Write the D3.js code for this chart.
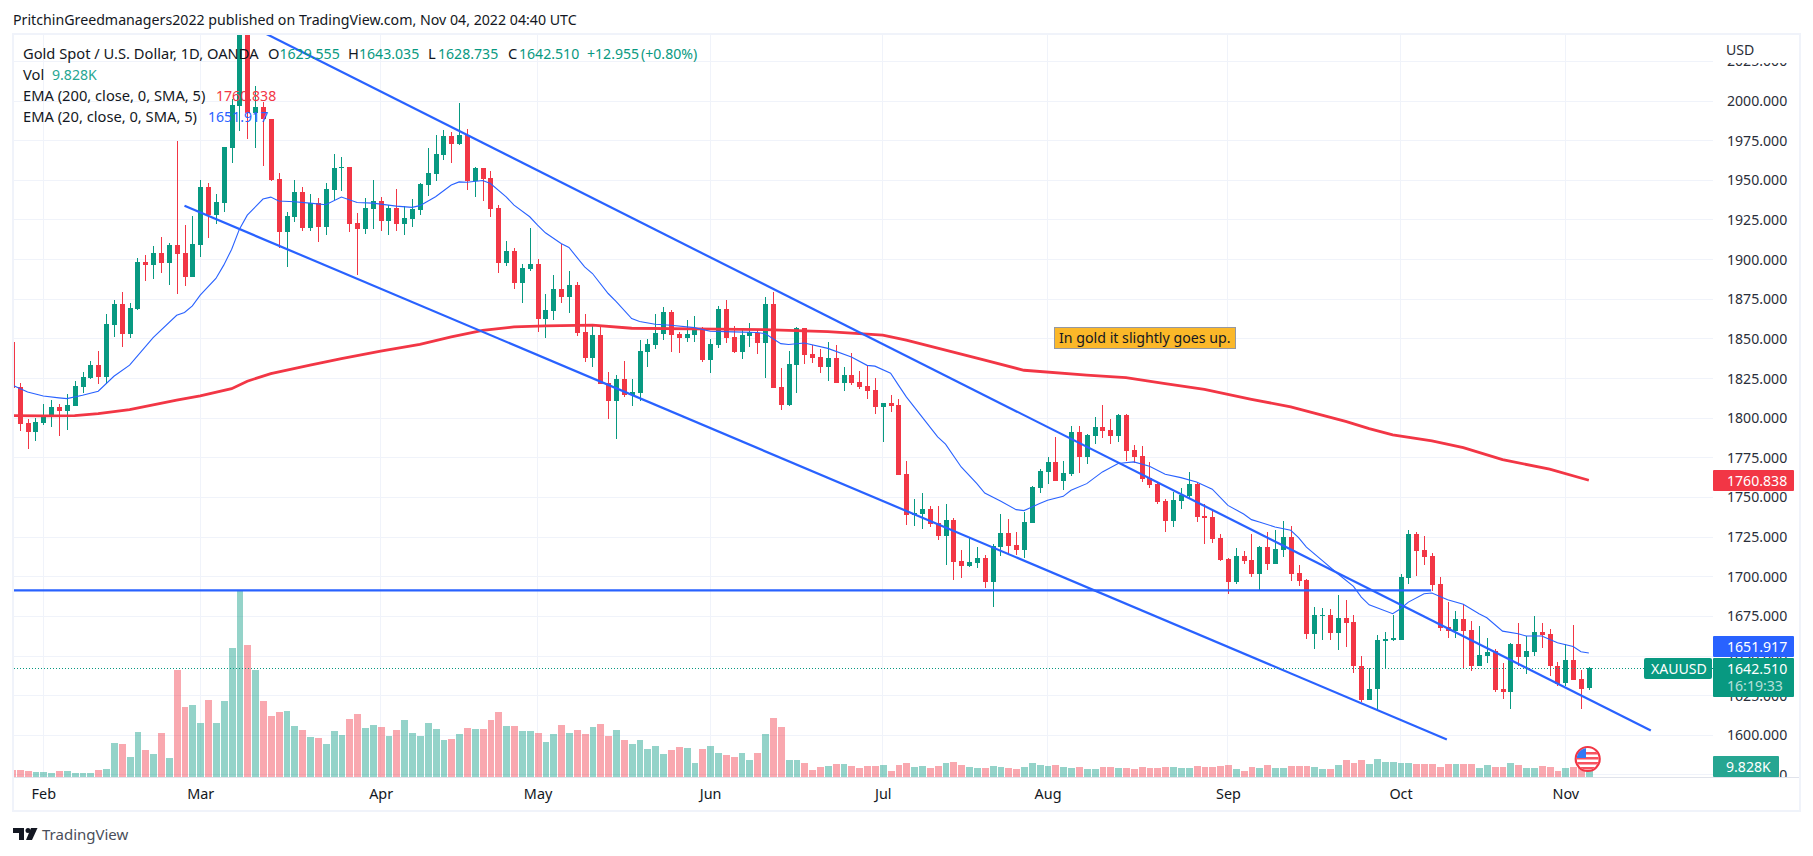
<!DOCTYPE html>
<html lang="en">
<head>
	<meta charset="UTF-8">
	<title>XAUUSD</title>
	<script src="https://d3js.org/d3.v7.min.js"></script>
	<style type="text/css" media="screen">
		html, body { margin: 0; padding: 0; background: #fff; }
		svg { display: block; }
		text { font-family: "Noto Sans", sans-serif; fill: #131722; }
		.grid line { stroke: #f0f3fa; shape-rendering: crispEdges; }
		.axis path { display: none; }
		.axis line { display: none; }
		.axis text { font-family: "Noto Sans", sans-serif; font-size: 14.1px; fill: #2a2e39; }
	</style>
</head>
<body>
	<script type="text/javascript">

		// daily candles
		const opens = [
			1848,1819.7,1796.8,1791.1,1796.8,1800.6,1806.9,1804.3,1807.5,1819.5,
			1825.2,1833.4,1825.8,1858.6,1871.9,1852.9,1868.7,1898.4,1896.5,1904.1,
			1897.8,1909.1,1904.1,1888.9,1909.1,1945.7,1928,1935.6,1970.3,1996.9,
			2050,1992.2,1996.2,1988.6,1950.8,1917.3,1926.8,1942.6,1919.8,1935.6,
			1920.5,1943.8,1957.7,1958.3,1923,1919.2,1931.8,1936.9,1924.3,1932.5,
			1922.4,1925.5,1931.2,1947,1953.9,1965.9,1977.9,1972.8,1978.5,1949.5,
			1957.7,1951.4,1932.4,1897.7,1905.3,1885.1,1893.9,1897.1,1862.4,1867.4,
			1881.3,1876.3,1883.8,1854.2,1837.7,1852.3,1822,1810.6,1824.5,1814.4,
			1815.7,1841.5,1845.9,1852.9,1866.8,1852.9,1850.4,1852.3,1856,1836.5,
			1846,1868.7,1851,1841.5,1851.6,1853.5,1847.2,1871.8,1819.4,1808.1,
			1833.3,1856.7,1840.3,1838.4,1832.1,1837.7,1822,1827,1822.6,1820.1,
			1817.5,1806.9,1809.4,1808.2,1764.6,1738.7,1739.4,1742.5,1733.7,1725.5,
			1735.6,1709.7,1706.5,1708.4,1711.6,1696.4,1718.5,1727.4,1719.8,1716.6,
			1733.7,1755.8,1765.9,1772.2,1760.2,1764.6,1791.1,1775.3,1788.6,1794.3,
			1792.4,1788.6,1801.9,1779.8,1776,1762.1,1758.3,1747.6,1735,1747.6,
			1750.7,1758.3,1738.1,1737.5,1724.2,1711,1696.4,1712.9,1710.3,1701.5,
			1718.5,1707.8,1716.6,1724.8,1702.1,1697.7,1663.6,1675,1675.6,1664.2,
			1673.7,1671.2,1644,1622,1628.9,1659.2,1659.8,1660.2,1699,1726.7,
			1716.6,1712.9,1695.2,1668,1665.5,1673.1,1666.1,1643.4,1649.8,1652.9,
			1628.9,1627.6,1657.3,1649.1,1652.3,1664.9,1663.6,1644,1632.7,1647.8,
			1635.2,1629.555
		];
		const highs = [
			1848,1822.2,1799.3,1799.9,1808.8,1811.3,1808.8,1815.1,1823.5,1829.2,
			1835.9,1842.2,1865.6,1874.4,1879.4,1872.5,1900.9,1902.8,1908.5,1914.2,
			1910.4,1974.8,1921.7,1927.4,1950.1,1948.2,1941.3,1971,2001,2070,
			2055,2009.5,1999.4,1988.6,1954.4,1930,1950.1,1945.7,1941.3,1938.8,
			1948.2,1966.6,1964.7,1958.3,1929.3,1938.8,1950.1,1939.4,1934.4,1944.5,
			1933.7,1938.2,1948.2,1970.3,1978.5,1981.7,1980.4,1998.7,1982.3,1958.3,
			1957.7,1955.8,1934.3,1911.6,1907.2,1897.1,1919.8,1900.2,1878.1,1890.1,
			1909.7,1892.7,1885.7,1865.5,1858.6,1858,1828.9,1827,1835.9,1824.5,
			1849.1,1849.7,1865.5,1870,1868,1854.2,1861.7,1864.3,1857.3,1849.7,
			1870.6,1874.4,1858,1855.4,1859.8,1855.4,1876.3,1879.4,1831.4,1842.2,
			1857.3,1856.7,1846,1843.4,1847.9,1846,1832.1,1840.9,1829.5,1833.3,
			1825.1,1809.4,1814.5,1812,1772.8,1748.8,1752.6,1744.4,1744.4,1745.7,
			1736.8,1716.6,1724.2,1718.5,1713.5,1720.4,1739.4,1736.2,1728,1740.6,
			1757,1767.8,1775.3,1788,1772.8,1794.9,1794.9,1789.9,1800.6,1808.2,
			1799.3,1802.5,1802.5,1782.9,1782.3,1772.2,1759.6,1748.8,1753.3,1755.8,
			1765.9,1758.9,1745.7,1742.5,1726.8,1711.6,1717.9,1716,1726.7,1719.2,
			1728,1729.3,1734.9,1731.8,1707.2,1698.3,1680.7,1680,1679.4,1688.2,
			1685.1,1675.6,1649.7,1642.2,1663,1664.9,1675.6,1701.5,1729.3,1728,
			1725.5,1714.7,1699.6,1683.8,1678.1,1682.6,1671.8,1668.7,1661.1,1654.2,
			1645.3,1658,1670.6,1662.4,1675,1670.6,1666.8,1646,1657.3,1669.3,
			1640.9,1643.035
		];
		const lows = [
			1819,1791.7,1780.6,1785.4,1795.5,1794.2,1788.6,1792.3,1807.5,1815.9,
			1824.5,1821.6,1821.6,1851.3,1845,1850.4,1868.3,1886.4,1887.7,1891.4,
			1883.7,1878.2,1883.2,1888.9,1901.5,1913.5,1922.4,1930,1960.9,1981,
			1976,1970.3,1959,1949.5,1907.2,1895.2,1923.6,1918,1918,1911,
			1915.4,1937.5,1943.2,1917.3,1890.2,1916,1919.2,1918,1915.4,1918,
			1915.4,1920.5,1928,1940,1949.5,1962.7,1960.8,1972.2,1943.8,1939.4,
			1936.8,1926.8,1891.4,1895.8,1881.3,1872.5,1892.7,1854.2,1850.4,1861.7,
			1872.5,1866.2,1851.6,1835.2,1832.1,1821.3,1799.2,1786.6,1813.1,1807.4,
			1810.6,1832.1,1843.4,1849.1,1841.5,1840.9,1847.9,1847.9,1835.2,1828.3,
			1844.1,1847.2,1840.9,1837.1,1844.7,1840.3,1825.1,1818.8,1804.9,1807.4,
			1815.7,1834,1834.6,1828.3,1823.2,1822,1816.9,1820.7,1818.2,1811.9,
			1802.4,1784.8,1803.8,1764,1732.4,1731.8,1729.9,1731.2,1723,1707.2,
			1697.7,1699,1705.9,1705.3,1692.7,1680.7,1712.9,1714.1,1713.5,1711.6,
			1733.7,1752.6,1758.3,1760.2,1754.5,1763.4,1765.3,1770.9,1783.6,1787.3,
			1783.6,1784.8,1772.8,1771.5,1759.6,1755.8,1745.7,1728,1731.2,1742.5,
			1749.5,1734.3,1720.4,1721.1,1709.7,1688.9,1695.2,1707.8,1699.6,1691.4,
			1704,1707.8,1712.2,1697.1,1693.9,1660.5,1654.2,1659.8,1659.8,1653.5,
			1655.4,1639.6,1621.3,1622,1615.6,1641.5,1659.2,1659.8,1695.2,1700.2,
			1707.2,1690.8,1665.5,1661.1,1661.1,1642.2,1640.3,1643.4,1645.9,1627.6,
			1622.6,1616.9,1644,1638.4,1649.7,1654.8,1637.7,1631.4,1630.8,1634.6,
			1616.3,1628.735
		];
		const closes = [
			1819,1796.3,1791.1,1797.4,1801.8,1806.9,1804.3,1808.1,1820.1,1825.8,
			1833.4,1825.8,1859.3,1871.9,1852.9,1869.3,1898.4,1896.5,1904.1,1897.8,
			1909.1,1903.4,1888.9,1909.7,1945.7,1928,1936.3,1971,1997.5,2050,
			1992.2,1996.2,1988.6,1950.1,1917.3,1927.4,1942.6,1919.8,1935.6,1920.5,
			1944.5,1957.7,1958.3,1922.4,1919.2,1932.5,1936.9,1924.3,1932.5,1922.4,
			1926.2,1931.8,1947.6,1954.5,1966.5,1977.9,1972.8,1978.5,1949.5,1957.7,
			1950.7,1931.8,1897.7,1905.3,1885.1,1894.6,1897.1,1862.4,1868,1881.3,
			1876.3,1883.8,1853.5,1837.7,1852.3,1821.3,1810.6,1824.5,1814.4,1816.3,
			1842.2,1846.6,1853.5,1866.8,1852.3,1850.4,1852.9,1856,1836.5,1846.6,
			1868.7,1850.4,1841.5,1852.3,1854.2,1847.2,1871.8,1818.8,1808.1,1834,
			1856.7,1839.6,1837.7,1832.1,1837.7,1822,1827,1822,1819.4,1816.9,
			1806.8,1809.4,1807.5,1764,1738.7,1740,1742.5,1733,1725.5,1735.6,
			1709.1,1706.5,1709.1,1711.6,1696.4,1719.2,1727.4,1719.2,1716.6,1734.3,
			1756.4,1766.5,1772.2,1760.2,1765.3,1791.1,1775.3,1789.2,1794.3,1791.8,
			1788.6,1801.9,1779.1,1775.3,1761.5,1757.7,1747,1735,1748.2,1751.4,
			1758.3,1737.5,1736.8,1723.6,1710.3,1696.4,1712.9,1709.7,1701.5,1718.5,
			1707.8,1717.3,1724.8,1701.5,1697.1,1663.6,1675.6,1675.6,1664.2,1673.7,
			1670.6,1643.4,1622,1629.5,1659.8,1660.5,1661.1,1699.6,1726.7,1716,
			1712.2,1694.6,1667.4,1665.5,1673.1,1665.5,1643.4,1650.4,1652.3,1628.3,
			1627.6,1657.3,1649.1,1652.9,1664.9,1663,1643.4,1632.1,1647.8,1634.6,
			1628.9,1642.51
		];
		// volume in thousands
		const volumes = [
			6.9,6.9,5.9,4.9,4.9,3.9,5.9,5.9,3.9,3.9,
			3.9,6.9,7.9,33.4,32.4,19.7,44.2,26.5,22.6,43.2,
			18.7,105.2,68.8,70.8,53.1,75.7,53.1,74.7,126.8,183.1,
			129.7,105.2,74.7,60,63.9,64.9,50.1,46.2,39.3,38.3,
			32.4,45.2,41.3,57,61.9,48.2,51.1,49.1,40.3,46.2,
			56,43.2,40.3,53.1,47.2,36.4,37.3,42.3,48.2,47.2,
			47.2,56,63.9,50.1,50.1,45.2,45.2,43.2,34.4,42.3,
			51.1,43.2,46.2,42.3,49.1,52.1,40.3,46.2,36.4,32.4,
			36.4,27.5,30.5,22.6,26.5,29.5,28.5,13.8,27.5,30.5,
			23.6,21.6,19.7,23.6,16.7,23.6,42.3,58,49.1,16.7,
			16.7,13.8,6.9,9.8,10.8,12.8,12.8,10.8,8.8,10.8,
			10.8,11.8,5.9,11.8,13.8,9.8,10.8,8.8,10.8,13.8,
			14.7,11.8,9.8,8.8,8.8,10.8,9.8,8.8,7.9,9.8,
			13.8,11.8,10.8,11.8,9.8,8.8,9.8,7.9,7.9,9.8,
			9.8,8.8,8.8,7.9,9.8,8.8,8.8,9.8,9.8,8.8,
			8.8,10.8,9.8,9.8,10.8,11.8,7.9,5.9,9.8,8.8,
			11.8,8.8,8.8,10.8,10.8,10.8,9.8,7.9,7.9,11.8,
			16.7,13.8,16.7,12.8,17.7,14.7,14.7,13.8,13.8,12.8,
			12.8,12.8,9.8,12.8,12.8,12.8,12.8,8.8,11.8,9.8,
			9.8,13.8,11.8,8.8,8.8,10.8,9.8,5.9,8.8,9.8,
			10,9.828
		];

		// moving averages, [bar number, price] as read at the visible bends
		const ema20 = [
			[0,1821],[2,1816.5],[4,1814],[6,1812.8],[7,1812.3],[9,1814.4],[11,1817],[13,1826.4],[15,1833.4],[18,1850.8],
			[21,1864.9],[22,1866.6],[23,1870.8],[24,1877.6],[26,1888.1],[27,1896.5],[28,1906.4],[29,1919.2],[30,1928],[32,1938.2],
			[33,1939.4],[34,1936.9],[36,1936.5],[38,1935.6],[40,1934.6],[42,1939.4],[44,1936],[46,1935.6],[49,1933.7],[51,1932.9],
			[52,1934],[54,1939.6],[56,1947],[57,1949],[58,1948.8],[60,1949.9],[61,1948],[63,1939.6],[64,1934.3],[66,1927],
			[67,1921.7],[68,1916.9],[70,1910.1],[71,1907.6],[73,1895.4],[74,1891.2],[76,1878.6],[77,1873.7],[79,1862.8],[80,1860.9],
			[82,1859.2],[84,1858.6],[87,1857.1],[89,1854.8],[92,1854.4],[95,1854],[96,1853.3],[98,1847],[99,1846.4],[101,1847.4],
			[104,1844],[107,1838.6],[109,1833.3],[110,1832.8],[112,1828.3],[113,1820.8],[114,1813.4],[116,1800.8],[118,1788.2],[119,1783.6],
			[121,1769.2],[123,1758.7],[124,1752.8],[126,1747.8],[128,1742.3],[129,1741.7],[131,1746.1],[132,1748.2],[134,1750.7],[135,1754.5],
			[137,1758.7],[139,1766.1],[141,1771.4],[143,1772.4],[145,1769.7],[147,1764.6],[149,1762.5],[151,1759.8],[153,1755.2],[155,1745],
			[157,1739.5],[158,1736],[159,1734.5],[161,1731.4],[163,1729.3],[164,1724.6],[165,1718.7],[167,1710.3],[169,1701.9],[171,1693.9],
			[172,1687.2],[173,1682.3],[176,1676.7],[177,1679.8],[178,1684],[180,1689.3],[181,1689.7],[183,1685.5],[185,1682.6],[187,1676.7],
			[188,1674.1],[190,1665.7],[192,1664],[193,1662.6],[195,1662.6],[197,1658.4],[199,1656],[200,1652.7],[201,1651.917]
		];
		const ema200 = [
			[0,1801.6],[4,1801.4],[8,1801.6],[11,1802.9],[15,1805.4],[21,1811.3],[24,1814],[28,1818.6],[30,1823.3],[33,1828.1],
			[38,1833.4],[42,1837.6],[47,1842.2],[52,1846.5],[56,1851.2],[60,1855.4],[64,1857.5],[68,1858.2],[74,1858.6],[79,1856.7],
			[87,1856.3],[96,1855.8],[104,1854.6],[111,1852.3],[114,1849.2],[124,1836.6],[129,1830.2],[137,1827.1],[142,1825.6],[147,1821.8],
			[152,1818.2],[158,1811.9],[163,1807.1],[170,1798],[173,1793.4],[176,1789.4],[181,1785.6],[185,1781.4],[190,1773.8],[196,1767.8],[201,1760.838]
		];

		// hand drawn lines: [bar number, price] at both ends
		const upperTrend = [[32.3,2042.6],[208.9,1603]];
		const lowerTrend = [[22,1933.9],[182.9,1597.4]];
		const flatLine = [[-2,1691.4],[180.9,1691.4]];

		const monthBars = [4,24,47,67,89,111,132,155,177,198];
		const monthLabels = ["Feb","Mar","Apr","May","Jun","Jul","Aug","Sep","Oct","Nov"];
		const priceTicks = [1575,1600,1625,1650,1675,1700,1725,1750,1775,1800,1825,1850,1875,1900,1925,1950,1975,2000,2025];

		const lastClose = 1642.51, lastEma20 = 1651.917, lastEma200 = 1760.838;

		const green = "#089981", red = "#f23645", blue = "#2962ff";

		const pane = {left: 14, top: 35, right: 1713, bottom: 777};

		const x = d3.scaleLinear().domain([4, 198]).range([43.3, 1565.3]);
		const y = d3.scaleLinear().domain([1600, 2000]).range([735.3, 101]);
		const yVol = d3.scaleLinear().domain([0, 10]).range([777, 766.8]);

		const svg = d3.select("body").append("svg")
			.attr("width", 1813)
			.attr("height", 856);

		svg.append("clipPath").attr("id", "pane").append("rect")
			.attr("x", pane.left).attr("y", pane.top)
			.attr("width", pane.right - pane.left).attr("height", pane.bottom - pane.top);
		svg.append("clipPath").attr("id", "labels").append("rect")
			.attr("x", pane.right).attr("y", 63)
			.attr("width", 90).attr("height", pane.bottom - 63);

		// frame round the chart
		svg.append("rect")
			.attr("x", 13).attr("y", 34).attr("width", 1787).attr("height", 777)
			.style("fill", "none").style("stroke", "#f0f3fa").style("stroke-width", 2);

		// gridlines
		const grid = svg.append("g").attr("class", "grid").attr("clip-path", "url(#pane)");
		grid.selectAll(".h").data(priceTicks).enter().append("line")
			.attr("x1", pane.left).attr("x2", pane.right)
			.attr("y1", d => y(d)).attr("y2", d => y(d));
		grid.selectAll(".v").data(monthBars).enter().append("line")
			.attr("x1", d => x(d)).attr("x2", d => x(d))
			.attr("y1", pane.top).attr("y2", pane.bottom);

		const plot = svg.append("g").attr("clip-path", "url(#pane)");

		// volume
		plot.append("g").selectAll("rect").data(volumes).enter().append("rect")
			.attr("x", (d, i) => Math.round(x(i) - 2.9))
			.attr("width", (d, i) => Math.round(x(i + 1) - 2.9) - Math.round(x(i) - 2.9) - 1)
			.attr("y", d => yVol(d))
			.attr("height", d => yVol(0) - yVol(d))
			.style("fill", (d, i) => closes[i] >= opens[i] ? green : red)
			.style("opacity", 0.43)
			.style("shape-rendering", "crispEdges");

		// candles
		const candles = plot.append("g").selectAll("g").data(closes).enter().append("g")
			.style("shape-rendering", "crispEdges")
			.style("fill", (d, i) => d >= opens[i] ? green : red);
		candles.append("rect")
			.attr("x", (d, i) => Math.round(x(i)))
			.attr("width", 1)
			.attr("y", (d, i) => y(highs[i]))
			.attr("height", (d, i) => y(lows[i]) - y(highs[i]));
		candles.append("rect")
			.attr("x", (d, i) => Math.round(x(i)) - 2)
			.attr("width", 5)
			.attr("y", (d, i) => y(Math.max(d, opens[i])))
			.attr("height", (d, i) => Math.max(1, Math.abs(y(d) - y(opens[i]))));

		const line = d3.line().x(d => x(d[0])).y(d => y(d[1]));

		plot.append("path")
			.attr("d", line(ema200))
			.style("fill", "none").style("stroke", red).style("stroke-width", 2.8);
		plot.append("path")
			.attr("d", line(ema20))
			.style("fill", "none").style("stroke", blue).style("stroke-width", 1.1);

		[upperTrend, lowerTrend, flatLine].forEach(d => {
			plot.append("path")
				.attr("d", line(d))
				.style("fill", "none").style("stroke", blue).style("stroke-width", 2.2);
		});

		// last price line
		plot.append("line")
			.attr("x1", pane.left).attr("x2", pane.right)
			.attr("y1", Math.round(y(lastClose)) + 0.5).attr("y2", Math.round(y(lastClose)) + 0.5)
			.style("stroke", green).style("stroke-dasharray", "1 2");

		// price axis
		svg.append("g")
			.attr("clip-path", "url(#labels)")
			.append("g")
			.attr("class", "axis")
			.attr("transform", `translate(${pane.right},0)`)
			.call(d3.axisRight(y)
				.tickValues(priceTicks)
				.tickSize(0)
				.tickPadding(14)
				.tickFormat(d3.format(".3f")));

		svg.append("text").attr("x", 1726).attr("y", 55).style("font-size", "14.1px").style("fill", "#2a2e39").text("USD");

		// time axis
		svg.append("g")
			.attr("class", "axis")
			.attr("transform", `translate(0,${pane.bottom})`)
			.call(d3.axisBottom(x)
				.tickValues(monthBars)
				.tickSize(0)
				.tickPadding(12)
				.tickFormat((d, i) => monthLabels[i]))
			.selectAll("text")
			.style("fill", "#131722")
			.style("font-size", "14.4px");

		svg.append("line")
			.attr("x1", 14).attr("x2", 1799).attr("y1", 777.5).attr("y2", 777.5)
			.style("stroke", "#e0e3eb");

		// boxes on the price axis
		var priceBox = (bx, by, w, h, color, label, r, tx) => {
			svg.append("rect")
				.attr("x", bx).attr("y", by).attr("width", w).attr("height", h).attr("rx", r)
				.style("fill", color);
			svg.append("text")
				.attr("x", bx + tx).attr("y", by + 15.5)
				.style("font-size", "14.1px").style("fill", "#fff").text(label);
		};
		priceBox(1713, 470, 81, 21, red, lastEma200.toFixed(3), 1, 14);
		priceBox(1713, 636, 81, 21, blue, lastEma20.toFixed(3), 1, 14);
		priceBox(1713, 658, 81, 39, green, lastClose.toFixed(3).replace(/(\.\d\d)$/, "$1"), 1, 14);
		priceBox(1644, 658, 68, 21, green, "XAUUSD", 2, 7);
		priceBox(1713, 756, 66, 21, "#26a692", "9.828K", 1, 13);
		svg.append("text")
			.attr("x", 1727).attr("y", 691)
			.style("font-size", "14.1px").style("fill", "#fff").style("opacity", 0.7).text("16:19:33");

		// note on the chart
		svg.append("rect")
			.attr("x", 1054.5).attr("y", 327.5).attr("width", 181).attr("height", 21)
			.style("fill", "#fbb829").style("stroke", "#9598a1");
		svg.append("text")
			.attr("x", 1059).attr("y", 343)
			.style("font-size", "14.2px").text("In gold it slightly goes up.");

		// legend
		var legend = (tx, ty, label, color) => {
			svg.append("text").attr("x", tx).attr("y", ty)
				.style("font-size", color ? "14.1px" : "14.7px")
				.style("fill", color || "#131722")
				.text(label);
		};
		legend(23, 59, "Gold Spot / U.S. Dollar, 1D, OANDA");
		legend(268, 59, "O");
		legend(279.5, 59, "1629.555", green);
		legend(348, 59, "H");
		legend(359, 59, "1643.035", green);
		legend(428, 59, "L");
		legend(438, 59, "1628.735", green);
		legend(508, 59, "C");
		legend(519, 59, "1642.510", green);
		legend(587, 59, "+12.955", green);
		legend(641, 59, "(+0.80%)", green);
		legend(23, 80, "Vol");
		legend(52, 80, "9.828K", "#26a692");
		legend(23, 101, "EMA (200, close, 0, SMA, 5)");
		legend(216, 101, "1760.838", red);
		legend(23, 122, "EMA (20, close, 0, SMA, 5)");
		legend(208, 122, "1651.917", blue);

		// header
		svg.append("text").attr("x", 13).attr("y", 24.5)
			.style("font-size", "14.2px")
			.text("PritchinGreedmanagers2022 published on TradingView.com, Nov 04, 2022 04:40 UTC");

		// logo
		const logo = svg.append("g").style("fill", "#131722");
		logo.append("path").attr("d", "M13 828H24V840H19V833H13Z");
		logo.append("circle").attr("cx", 28).attr("cy", 830.5).attr("r", 2.5);
		logo.append("path").attr("d", "M31 828H37.5L32 840H26Z");
		svg.append("text").attr("x", 42).attr("y", 839.5)
			.style("font-size", "15px").style("fill", "#4a4e5a").text("TradingView");

		// US event flag
		const flag = svg.append("g").attr("transform", "translate(1587.7,759)");
		svg.append("clipPath").attr("id", "flag").append("circle").attr("cx", 1587.7).attr("cy", 759).attr("r", 11);
		flag.append("circle").attr("r", 12).style("fill", "#fff").style("stroke", red).style("stroke-width", 2.2);
		const flagInner = svg.append("g").attr("clip-path", "url(#flag)");
		[752, 757, 762, 767].forEach(sy => {
			flagInner.append("rect").attr("x", 1575).attr("y", sy).attr("width", 26).attr("height", 2.5)
				.style("fill", "#f7525f");
		});
		flagInner.append("rect").attr("x", 1575).attr("y", 748).attr("width", 11).attr("height", 10)
			.style("fill", "#3179f5");

	</script>
</body>
</html>
